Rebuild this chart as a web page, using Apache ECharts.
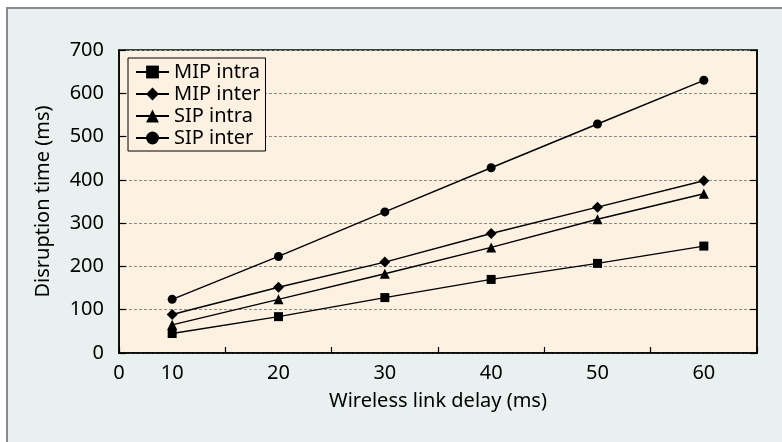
<!DOCTYPE html>
<html>
<head>
<meta charset="utf-8">
<script src="https://cdn.jsdelivr.net/npm/echarts@6/dist/echarts.min.js"></script>
<style>
body { margin:0; background:#fff; }
#panel { position:absolute; left:6px; top:7px; width:800px; height:460px; background:#e8f1ef; border-left:2px solid #8a8a8a; border-top:2px solid #8a8a8a; }
#chart { position:absolute; left:0; top:0; width:782px; height:442px; }
</style>
</head>
<body>
<div id="panel"></div>
<div id="chart"></div>
<script>
// x: wireless link delay (ms)
var delays = [10, 20, 30, 40, 50, 60];
var xTickLabels = ['0', '10', '20', '30', '40', '50', '60'];
// disruption time (ms)
var mipIntra = [45, 84, 128, 170, 207, 247];
var mipInter = [89, 152, 210, 276, 337, 398];
var sipIntra = [65, 124, 183, 244, 309, 368];
var sipInter = [124, 223, 326, 428, 529, 630];

var names = ['MIP intra', 'MIP inter', 'SIP intra', 'SIP inter'];
var values = [mipIntra, mipInter, sipIntra, sipInter];
var symbols = ['rect', 'diamond', 'triangle', 'circle'];
var sizes = [9, 11, 10, 9];

var chart = echarts.init(document.getElementById('chart'));
var font = 'Noto Sans';

function pairs(ys) {
    return delays.map(function (x, i) { return [x, ys[i]]; });
}

var series = names.map(function (n, i) {
    return {
        name: n,
        type: 'line',
        xAxisIndex: 0,
        yAxisIndex: 0,
        data: pairs(values[i]),
        symbol: symbols[i],
        symbolSize: sizes[i],
        showAllSymbol: true,
        lineStyle: { color: '#000', width: 1.4 },
        itemStyle: { color: '#000' },
        z: 3
    };
});

var option = {
    animation: false,
    textStyle: { fontFamily: font },
    grid: {
        left: 119, right: 25, top: 50, bottom: 89,
        show: true,
        backgroundColor: '#fdf1e2',
        borderColor: '#000',
        borderWidth: 1.5
    },
    legend: {
        orient: 'vertical',
        left: 128,
        top: 58,
        data: names,
        backgroundColor: '#fdf1e2',
        borderColor: '#000',
        borderWidth: 1,
        padding: [4, 5, 3, 7],
        itemWidth: 33,
        itemHeight: 16,
        itemGap: 2,
        textStyle: { fontSize: 20, color: '#000', fontFamily: font }
    },
    xAxis: [
        {
            type: 'value', min: 5, max: 65, interval: 10,
            axisLine: { lineStyle: { color: '#000', width: 1.5 } },
            axisTick: { inside: true, length: 6, lineStyle: { color: '#000', width: 1.2 } },
            axisLabel: { show: false },
            splitLine: { show: false }
        },
        {
            type: 'value', min: 5, max: 65, interval: 5,
            position: 'bottom',
            axisLine: { show: false },
            axisTick: { show: false },
            splitLine: { show: false },
            axisLabel: {
                showMinLabel: true,
                margin: 10,
                fontSize: 20,
                color: '#000',
                fontFamily: font,
                formatter: function (v) {
                    if (v === 5) return xTickLabels[0];
                    if (v % 10 === 0) return xTickLabels[v / 10];
                    return '';
                }
            },
            name: 'Wireless link delay (ms)',
            nameLocation: 'middle',
            nameGap: 38,
            nameTextStyle: { fontSize: 20, color: '#000', fontFamily: font }
        }
    ],
    yAxis: [
        {
            type: 'value', min: 0, max: 700, interval: 100,
            axisLine: { show: true, lineStyle: { color: '#000', width: 1.5 } },
            axisTick: { show: true, inside: true, length: 7, lineStyle: { color: '#000', width: 1.2 } },
            axisLabel: { fontSize: 20, color: '#000', fontFamily: font, margin: 15 },
            splitLine: { show: true, lineStyle: { color: '#8c8c8c', type: [3, 2], width: 1 } },
            name: 'Disruption time (ms)',
            nameLocation: 'middle',
            nameGap: 66,
            nameTextStyle: { fontSize: 20, color: '#000', fontFamily: font }
        },
        {
            type: 'value', min: 0, max: 700, interval: 100,
            position: 'right',
            axisLine: { show: true, lineStyle: { color: '#000', width: 1.5 } },
            axisTick: { show: true, inside: true, length: 7, lineStyle: { color: '#000', width: 1.2 } },
            axisLabel: { show: false },
            splitLine: { show: false }
        }
    ],
    series: series
};

chart.setOption(option);
</script>
</body>
</html>
